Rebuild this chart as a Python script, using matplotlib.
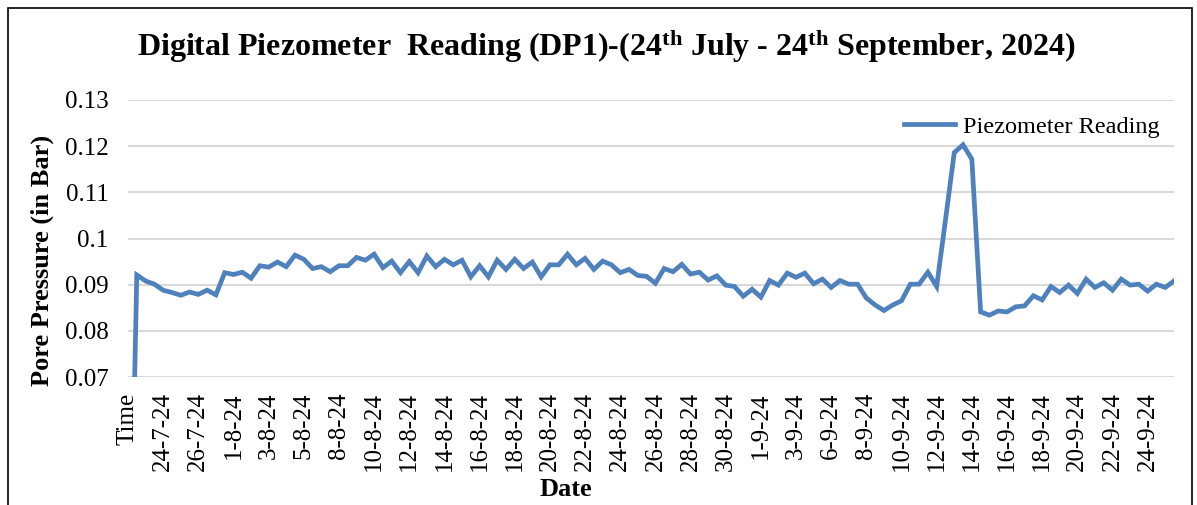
import numpy as np
import matplotlib
matplotlib.use('Agg')
import matplotlib.pyplot as plt
from matplotlib.patches import Rectangle

# -----------------------------------------------------------------
# DADOS
# -----------------------------------------------------------------
# primeiro ponto = linha de cabeçalho "Time" (valor 0, cai abaixo do eixo)
pressure = [0.0,
            0.0921, 0.0908, 0.0901, 0.0888, 0.0883, 0.0877, 0.0884, 0.0879, 0.0888, 0.0878,
            0.0926, 0.0922, 0.0927, 0.0914, 0.0941, 0.0938, 0.0949, 0.0939, 0.0964, 0.0955,
            0.0935, 0.0939, 0.0928, 0.0941, 0.0941, 0.0959, 0.0953, 0.0966, 0.0937, 0.0951,
            0.0926, 0.0950, 0.0926, 0.0962, 0.0939, 0.0955, 0.0943, 0.0953, 0.0917, 0.0941,
            0.0917, 0.0953, 0.0933, 0.0955, 0.0935, 0.0949, 0.0917, 0.0943, 0.0943, 0.0966,
            0.0943, 0.0957, 0.0933, 0.0951, 0.0943, 0.0926, 0.0933, 0.0920, 0.0918, 0.0903,
            0.0935, 0.0928, 0.0944, 0.0923, 0.0927, 0.0910, 0.0919, 0.0899, 0.0896, 0.0875,
            0.0890, 0.0873, 0.0909, 0.0899, 0.0925, 0.0916, 0.0925, 0.0902, 0.0912, 0.0894,
            0.0909, 0.0901, 0.0901, 0.0871, 0.0856, 0.0844, 0.0856, 0.0865, 0.0901, 0.0901,
            0.0927, 0.0896, 0.1040, 0.1186, 0.1203, 0.1172, 0.0841, 0.0834, 0.0843, 0.0841,
            0.0852, 0.0854, 0.0876, 0.0867, 0.0896, 0.0883, 0.0899, 0.0881, 0.0912, 0.0894,
            0.0904, 0.0888, 0.0912, 0.0899, 0.0901, 0.0886, 0.0901, 0.0894, 0.0908]

# rótulos exibidos no eixo x (um a cada 4 categorias)
date_labels = ['Time', '24-7-24', '26-7-24', '1-8-24', '3-8-24', '5-8-24', '8-8-24',
               '10-8-24', '12-8-24', '14-8-24', '16-8-24', '18-8-24', '20-8-24',
               '22-8-24', '24-8-24', '26-8-24', '28-8-24', '30-8-24', '1-9-24',
               '3-9-24', '6-9-24', '8-9-24', '10-9-24', '12-9-24', '14-9-24',
               '16-9-24', '18-9-24', '20-9-24', '22-9-24', '24-9-24']
label_step = 4

y_ticks = [0.07, 0.08, 0.09, 0.10, 0.11, 0.12, 0.13]
y_tick_labels = ['0.07', '0.08', '0.09', '0.1', '0.11', '0.12', '0.13']

# -----------------------------------------------------------------
# PLOTAGEM
# -----------------------------------------------------------------
plt.rcParams['font.family'] = ['Liberation Serif', 'DejaVu Serif']
plt.rcParams['mathtext.fontset'] = 'custom'
plt.rcParams['mathtext.rm'] = 'Liberation Serif:bold'
plt.rcParams['mathtext.it'] = 'Liberation Serif:bold'
plt.rcParams['mathtext.bf'] = 'Liberation Serif:bold'

W, H = 1197, 505
fig = plt.figure(figsize=(W / 100, H / 100), dpi=100)
ax = fig.add_axes([128 / W, 1 - 377 / H, (1174 - 128) / W, (377 - 100) / H])

x = np.arange(len(pressure))
ax.plot(x, pressure, color='#4F81BD', lw=3.4, label='Piezometer Reading',
        solid_joinstyle='miter')

ax.set_xlim(0, len(pressure) - 1)
ax.set_ylim(0.07, 0.13)
ax.set_yticks(y_ticks)
ax.set_yticklabels(y_tick_labels)
ax.set_xticks(x[::label_step][:len(date_labels)])
ax.set_xticklabels(date_labels, rotation=90)
ax.tick_params(axis='y', length=0, pad=14, labelsize=18)
ax.tick_params(axis='x', length=0, pad=11, labelsize=18)

ax.grid(True, axis='y', color='#D9D9D9', lw=1.5)
ax.set_axisbelow(True)
for s in ax.spines.values():
    s.set_visible(False)

ax.legend(loc='upper right', bbox_to_anchor=(1.0, 0.995), frameon=False,
          fontsize=17.5, handlelength=2.1, handletextpad=0.3, borderaxespad=0.2)

fig.text(42 / W, 1 - 260 / H, 'Pore Pressure (in Bar)', rotation=90,
         fontsize=19, fontweight='bold', ha='center', va='center')
fig.text(566 / W, 1 - 490 / H, 'Date', fontsize=19, fontweight='bold',
         ha='center', va='center')
fig.text(606 / W, 1 - 47 / H,
         r'Digital Piezometer  Reading (DP1)-(24$^{\mathrm{th}}$ July - '
         r'24$^{\mathrm{th}}$ September, 2024)',
         fontsize=23, fontweight='bold', ha='center', va='center')

# moldura da figura
fig.patches.append(Rectangle((8 / W, -0.1), (1192 - 8) / W, 1.1 - 8 / H,
                             transform=fig.transFigure, fill=False,
                             edgecolor='black', lw=1.2))

fig.savefig('out.png', dpi=100)
